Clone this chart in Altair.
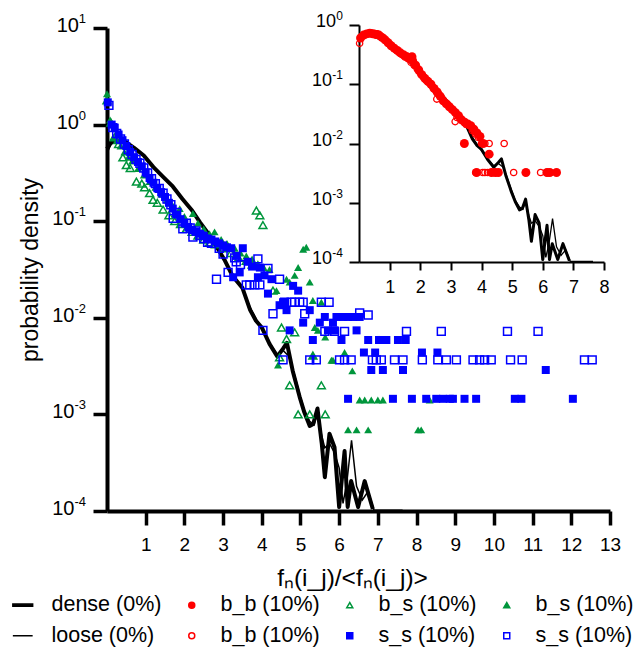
import json
import altair as alt
import pandas as pd

FONT = "Liberation Sans"
GREEN = "#00963C"
BLUE = "#0000FF"
RED = "#FF0000"

# ---------------- data ----------------
DENSE_X = [0.0, 0.1, 0.25, 0.45, 0.7, 0.95, 1.2, 1.45, 1.7, 1.95, 2.2, 2.4, 2.6, 2.8, 3.05,
           3.25, 3.5, 3.7, 3.85, 4.0, 4.2, 4.4, 4.55, 4.65, 4.8, 4.98, 5.1, 5.24, 5.33, 5.44,
           5.55, 5.63, 5.75, 5.88, 6.0, 6.14, 6.22, 6.31, 6.49, 6.66, 6.87]
DENSE_Y = [0.56, 0.65, 0.68, 0.676, 0.575, 0.479, 0.363, 0.288, 0.229, 0.170, 0.129, 0.0977,
           0.0759, 0.0575, 0.0389, 0.0269, 0.0204, 0.0120, 0.00933, 0.00794, 0.00537, 0.00398,
           0.00479, 0.00550, 0.00282, 0.00151, 0.00105, 0.000759, 0.000794, 0.00115, 0.000501,
           0.000224, 0.000631, 0.000457, 0.000110, 0.000417, 0.000110, 0.000204, 0.000110,
           0.000204, 0.000105]
LOOSE_X = [0.0, 0.1, 0.25, 0.45, 0.7, 0.95, 1.2, 1.45, 1.7, 1.95, 2.2, 2.4, 2.6, 2.8, 3.05,
           3.25, 3.5, 3.7, 3.85, 4.0, 4.2, 4.4, 4.55, 4.7, 4.8, 4.98, 5.1, 5.24, 5.35, 5.44,
           5.55, 5.63, 5.75, 5.88, 6.0, 6.1, 6.2, 6.32, 6.45, 6.6, 6.75, 6.9, 7.64]
LOOSE_Y = [0.50, 0.63, 0.66, 0.66, 0.57, 0.47, 0.36, 0.285, 0.226, 0.168, 0.127, 0.0966,
           0.0746, 0.0566, 0.0380, 0.0275, 0.0200, 0.0128, 0.0098, 0.0076, 0.0055, 0.0042,
           0.0046, 0.0040, 0.0030, 0.00162, 0.00110, 0.00085, 0.00078, 0.00105, 0.00060,
           0.00045, 0.00050, 0.00040, 0.00028, 0.00012, 0.00020, 0.00054, 0.00018, 0.00013,
           0.00016, 0.000102, 0.000102]

# b_s (10%) open triangles
BS_OPEN = [(0.0, 1.78), (0.1, 1.05), (0.2, 0.74), (0.3, 0.63), (0.41, 0.457), (0.5, 0.38),
           (0.6, 0.355), (0.76, 0.257), (0.9, 0.245), (0.97, 0.224), (1.1, 0.195), (1.19, 0.166),
           (1.3, 0.155), (1.45, 0.132), (1.6, 0.115), (1.75, 0.100), (1.9, 0.0933), (2.05, 0.0832),
           (2.2, 0.0776), (2.35, 0.0708), (2.5, 0.0646), (2.65, 0.0603), (2.8, 0.0575), (3.0, 0.0525),
           (3.2, 0.0468), (3.4, 0.0417), (3.6, 0.0389), (3.75, 0.0355), (3.86, 0.129), (3.95, 0.115),
           (4.03, 0.0912), (4.29, 0.0191), (4.46, 0.00389), (4.51, 0.00794), (4.64, 0.00603),
           (4.72, 0.00200), (4.85, 0.00708), (4.94, 0.00100), (5.24, 0.00100), (5.32, 0.00407),
           (5.54, 0.00200), (5.64, 0.00100)]
# b_s (10%) filled triangles
BS_FILLED = [(0.0, 2.09), (0.08, 1.12), (0.16, 0.74), (0.25, 0.68), (0.35, 0.60), (0.45, 0.52),
             (0.55, 0.46), (0.65, 0.42), (0.8, 0.35), (0.95, 0.30), (1.1, 0.257), (1.25, 0.224),
             (1.4, 0.191), (1.55, 0.166), (1.7, 0.145), (1.88, 0.135), (2.0, 0.112), (2.22, 0.120),
             (2.35, 0.0955), (2.5, 0.0832), (2.65, 0.0741), (2.78, 0.0776), (2.95, 0.0646),
             (3.1, 0.0589), (3.3, 0.0525), (3.45, 0.0468), (3.6, 0.0437), (3.75, 0.0407),
             (3.9, 0.0363), (4.05, 0.0331), (4.2, 0.0316), (4.38, 0.0191), (4.42, 0.00324),
             (4.64, 0.0251), (4.72, 0.0234), (4.85, 0.0275), (4.94, 0.0331), (5.07, 0.0513),
             (5.15, 0.0537), (5.24, 0.0234), (5.32, 0.0151), (5.37, 0.00794), (5.45, 0.00741),
             (5.54, 0.0145), (5.64, 0.00631), (5.32, 0.00407), (5.8, 0.00363), (5.84, 0.00363),
             (6.14, 0.00437), (6.34, 0.00282), (6.53, 0.00141), (6.66, 0.00141), (6.83, 0.00141),
             (7.0, 0.00141), (7.13, 0.00141), (8.34, 0.00141), (6.23, 0.000692), (6.45, 0.000692),
             (6.75, 0.000692), (8.04, 0.000692), (8.12, 0.000692)]
# s_s (10%) filled squares
SS_FILLED = [(0.02, 1.70), (0.12, 1.00), (0.2, 0.93), (0.3, 0.79), (0.4, 0.69), (0.5, 0.60),
             (0.6, 0.52), (0.7, 0.46), (0.8, 0.41), (0.9, 0.37), (1.0, 0.32), (1.1, 0.28),
             (1.2, 0.25), (1.3, 0.22), (1.4, 0.20), (1.5, 0.178), (1.6, 0.155), (1.7, 0.135),
             (1.8, 0.117), (1.9, 0.105), (2.0, 0.0955), (2.1, 0.0871), (2.2, 0.0813), (2.3, 0.0776),
             (2.4, 0.0741), (2.5, 0.0708), (2.6, 0.0661), (2.7, 0.0646), (2.8, 0.0617), (2.9, 0.0589),
             (3.0, 0.0562), (3.1, 0.0537), (3.21, 0.0525), (3.26, 0.0263), (3.35, 0.0437),
             (3.43, 0.0295), (3.51, 0.0525), (3.64, 0.0380), (3.75, 0.0339), (3.9, 0.0263),
             (3.95, 0.0331), (4.07, 0.0275), (4.16, 0.0178), (4.25, 0.0251), (4.46, 0.0135),
             (4.55, 0.0145), (4.64, 0.0120), (4.72, 0.00741), (4.81, 0.0214), (4.94, 0.0191),
             (5.07, 0.00891), (5.24, 0.0120), (5.32, 0.00589), (5.50, 0.00891), (5.63, 0.0102),
             (5.71, 0.00741), (5.84, 0.00891), (5.88, 0.00741), (5.93, 0.0102), (6.06, 0.00589),
             (6.1, 0.0102), (6.23, 0.0102), (6.36, 0.0102), (6.45, 0.00741), (6.53, 0.0102),
             (6.64, 0.00437), (6.75, 0.00589), (6.83, 0.00288), (6.93, 0.00437), (7.03, 0.00589),
             (7.13, 0.00288), (7.22, 0.00589), (7.52, 0.00589), (7.65, 0.00288), (7.72, 0.00589),
             (8.14, 0.00437), (8.54, 0.00437), (11.34, 0.00288), (6.23, 0.00145), (7.39, 0.00145),
             (7.88, 0.00145), (8.25, 0.00145), (8.51, 0.00145), (8.68, 0.00145), (8.86, 0.00145),
             (8.94, 0.00145), (9.24, 0.00145), (9.54, 0.00145), (10.54, 0.00145), (10.71, 0.00145),
             (12.04, 0.00145)]
# s_s (10%) open squares
SS_OPEN = [(0.05, 1.58), (0.15, 0.93), (0.25, 0.81), (0.35, 0.71), (0.45, 0.63), (0.55, 0.55),
           (0.65, 0.49), (0.75, 0.437), (0.85, 0.398), (0.95, 0.355), (1.05, 0.316), (1.15, 0.275),
           (1.25, 0.245), (1.35, 0.219), (1.45, 0.195), (1.55, 0.170), (1.65, 0.148), (1.71, 0.107),
           (1.8, 0.123), (1.96, 0.0832), (2.05, 0.0955), (2.15, 0.0851), (2.22, 0.0684), (2.3, 0.0794),
           (2.4, 0.0708), (2.5, 0.0661), (2.6, 0.0603), (2.7, 0.0589), (2.83, 0.0251), (2.9, 0.0525),
           (3.0, 0.0457), (3.13, 0.0295), (3.3, 0.0417), (3.34, 0.0380), (3.45, 0.0355), (3.6, 0.0219),
           (3.69, 0.0219), (3.82, 0.0219), (3.9, 0.0407), (3.95, 0.0219), (4.03, 0.00741),
           (4.16, 0.0324), (4.29, 0.0110), (4.46, 0.0251), (4.55, 0.00367), (4.59, 0.0145),
           (4.76, 0.0145), (4.85, 0.0145), (4.98, 0.0145), (5.07, 0.0145), (5.11, 0.0110),
           (5.24, 0.00367), (5.41, 0.00367), (5.54, 0.0145), (5.63, 0.00724), (5.74, 0.0145),
           (5.88, 0.00724), (6.01, 0.00367), (6.14, 0.00724), (6.14, 0.00367), (6.31, 0.00367),
           (6.53, 0.0112), (6.75, 0.0107), (6.86, 0.00367), (6.96, 0.00367), (7.09, 0.00367),
           (7.43, 0.00367), (7.65, 0.00367), (7.74, 0.00724), (8.15, 0.00367), (8.55, 0.00367),
           (8.64, 0.00724), (8.77, 0.00367), (9.03, 0.00367), (9.46, 0.00367), (9.63, 0.00367),
           (9.76, 0.00367), (9.93, 0.00367), (10.35, 0.00724), (10.43, 0.00367), (10.73, 0.00367),
           (11.14, 0.00724), (12.34, 0.00367), (12.54, 0.00367)]
# b_b (10%) filled circles (inset)
BB_FILLED = [(0.05, 0.603), (0.15, 0.676), (0.25, 0.708), (0.35, 0.724), (0.45, 0.708), (0.55, 0.692),
             (0.65, 0.676), (0.75, 0.617), (0.85, 0.562), (0.95, 0.501), (1.05, 0.447), (1.15, 0.407),
             (1.25, 0.372), (1.35, 0.339), (1.45, 0.316), (1.55, 0.295), (1.65, 0.275), (1.73, 0.292),
             (1.75, 0.251), (1.85, 0.209), (1.95, 0.174), (2.05, 0.145), (2.15, 0.126), (2.25, 0.112),
             (2.35, 0.100), (2.45, 0.0851), (2.55, 0.0741), (2.65, 0.0631), (2.75, 0.0525),
             (2.85, 0.0468), (2.95, 0.0417), (3.05, 0.0372), (3.15, 0.0331), (3.25, 0.0295),
             (3.35, 0.0251), (3.45, 0.0229), (3.55, 0.0214), (3.65, 0.0200), (3.75, 0.0174),
             (3.85, 0.0151), (3.95, 0.0132), (4.05, 0.0100), (4.25, 0.0066), (3.44, 0.0100),
             (3.84, 0.00324), (4.33, 0.00324), (4.45, 0.00324), (4.55, 0.00324), (5.45, 0.00324),
             (6.14, 0.00324), (6.23, 0.00324), (6.45, 0.00324)]
# b_b (10%) open circles (inset)
BB_OPEN = [(0.02, 0.490), (0.1, 0.646), (0.2, 0.692), (0.3, 0.724), (0.4, 0.741), (0.5, 0.724),
           (0.6, 0.708), (0.7, 0.661), (0.8, 0.603), (0.9, 0.537), (1.0, 0.479), (1.1, 0.427),
           (1.2, 0.380), (1.3, 0.347), (1.4, 0.316), (1.5, 0.288), (1.6, 0.269), (1.7, 0.234),
           (1.8, 0.209), (1.9, 0.182), (2.0, 0.155), (2.1, 0.132), (2.2, 0.115), (2.3, 0.105),
           (2.4, 0.0912), (2.5, 0.0794), (2.54, 0.0562), (2.6, 0.0692), (2.7, 0.0589), (2.8, 0.0501),
           (2.9, 0.0457), (3.0, 0.0398), (3.1, 0.0355), (3.14, 0.0234), (3.2, 0.0275), (3.3, 0.0263),
           (3.4, 0.0240), (3.5, 0.0209), (3.6, 0.0200), (3.7, 0.0166), (3.8, 0.0145), (3.9, 0.0126),
           (4.0, 0.0100), (4.11, 0.0100), (4.25, 0.0100), (4.74, 0.0100), (3.81, 0.00324),
           (4.04, 0.00324), (4.11, 0.00324), (4.2, 0.00324), (4.3, 0.00324), (5.05, 0.00324),
           (5.93, 0.00324), (6.12, 0.00324)]

MAIN_XTICKS = [1, 2, 3, 4, 5, 6, 7, 8, 9, 10, 11, 12, 13]
MAIN_YTICKS = [10, 1, 0.1, 0.01, 0.001, 0.0001]
MAIN_YEXP = ["1", "0", "-1", "-2", "-3", "-4"]
INSET_XTICKS = [1, 2, 3, 4, 5, 6, 7, 8]
INSET_YTICKS = [1, 0.1, 0.01, 0.001, 0.0001]
INSET_YEXP = ["0", "-1", "-2", "-3", "-4"]

# legend entries, listed column by column (two rows)
LEGEND_KEYS = ["dense", "loose", "bb_f", "bb_o", "bs_o", "ss_f", "bs_f", "ss_o"]
LEGEND_LABELS = ["dense (0%)", "loose (0%)", "b_b (10%)", "b_b (10%)",
                 "b_s (10%)", "s_s (10%)", "b_s (10%)", "s_s (10%)"]

X_TITLE = "f\u2099(i_j)/<f\u2099(i_j)>"
Y_TITLE = "probability density"

# ---------------- frames ----------------
dense_df = pd.DataFrame({"x": DENSE_X, "y": DENSE_Y})
loose_df = pd.DataFrame({"x": LOOSE_X, "y": LOOSE_Y})


def pts(pairs):
    return pd.DataFrame(pairs, columns=["x", "y"])


main_lab = pd.DataFrame({"y": MAIN_YTICKS, "e": MAIN_YEXP})
inset_lab = pd.DataFrame({"y": INSET_YTICKS, "e": INSET_YEXP})
legend_df = pd.DataFrame({"key": LEGEND_KEYS, "x": [None] * 8, "y": [None] * 8})

# ---------------- encodings ----------------
x_main = alt.X("x:Q", scale=alt.Scale(domain=[0, 13], nice=False, zero=False),
               axis=alt.Axis(values=MAIN_XTICKS, format="d", title=X_TITLE, grid=False,
                             domainWidth=4, tickWidth=3.5, tickSize=14, labelFontSize=19,
                             labelPadding=10, labelFlush=False, labelOverlap=False,
                             titleFontSize=24.5, titleX=245, titleY=67, titleBaseline="middle"))
y_main = alt.Y("y:Q", scale=alt.Scale(type="log", domain=[1e-4, 10], nice=False),
               axis=alt.Axis(values=MAIN_YTICKS, labels=False, title=Y_TITLE, grid=False,
                             domainWidth=4, tickWidth=3.5, tickSize=14, titleFontSize=23,
                             titleX=-77, titleY=241.5, titleAngle=270, titleAlign="center",
                             titleBaseline="middle"))

x_in = alt.X("x:Q", scale=alt.Scale(domain=[0, 8], nice=False, zero=False, range=[252, 497]),
             axis=alt.Axis(orient="bottom", offset=-249, values=INSET_XTICKS, format="d",
                           title=None, grid=False, domainWidth=2, tickWidth=2, tickSize=8,
                           labelFontSize=18, labelPadding=8, labelFlush=False,
                           labelOverlap=False))
y_in = alt.Y("y:Q", scale=alt.Scale(type="log", domain=[1e-4, 1], nice=False, range=[234, -3]),
             axis=alt.Axis(orient="left", offset=-252, values=INSET_YTICKS, labels=False,
                           title=None, grid=False, domainWidth=2, tickWidth=2, tickSize=10))


def scatter(df, shape, filled, color, size, xe, ye, sw=1.5):
    return alt.Chart(df).mark_point(shape=shape, filled=filled, color=color, size=size,
                                    strokeWidth=sw, opacity=1).encode(x=xe, y=ye)


def ylabels(df, ye, xs, xd, xe, fs, efs, dyb, dye):
    b1 = alt.Chart(df).transform_filter("length(datum.e) == 1").mark_text(
        text="10", align="right", baseline="middle", font=FONT, fontSize=fs, dy=dyb,
        color="black").encode(y=ye, x=alt.value(xs))
    b2 = alt.Chart(df).transform_filter("length(datum.e) > 1").mark_text(
        text="10", align="right", baseline="middle", font=FONT, fontSize=fs, dy=dyb,
        color="black").encode(y=ye, x=alt.value(xd))
    ex = alt.Chart(df).mark_text(align="right", baseline="middle", font=FONT, fontSize=efs,
                                 dy=dye, color="black").encode(y=ye, x=alt.value(xe),
                                                               text="e:N")
    return [b1, b2, ex]


DENSE_PATH = "M-3.3,-0.35L3.3,-0.35L3.3,0.35L-3.3,0.35Z"
LOOSE_PATH = "M-3.3,0L3.3,0"
leg = alt.Legend(title=None, orient="none", legendX=-95, legendY=566, columns=4,
                 labelFontSize=21.5, labelFont=FONT, labelColor="black", labelOffset=18,
                 columnPadding=19, rowPadding=8, symbolSize=36, symbolStrokeWidth=1.5,
                 padding=0,
                 labelExpr=f"{json.dumps(LEGEND_LABELS)}[indexof({json.dumps(LEGEND_KEYS)}, datum.value)]")
legend_layer = alt.Chart(legend_df).mark_point(clip=True, opacity=1).encode(
    x=x_main, y=y_main,
    shape=alt.Shape("key:N", scale=alt.Scale(domain=LEGEND_KEYS, range=[
        DENSE_PATH, LOOSE_PATH, "circle", "circle", "triangle-up", "square", "triangle-up", "square"]),
        legend=leg),
    fill=alt.Fill("key:N", scale=alt.Scale(domain=LEGEND_KEYS, range=[
        "black", "black", RED, "transparent", "transparent", BLUE, GREEN, "transparent"]),
        legend=leg),
    stroke=alt.Stroke("key:N", scale=alt.Scale(domain=LEGEND_KEYS, range=[
        "black", "black", RED, RED, GREEN, BLUE, GREEN, BLUE]), legend=leg),
)

main_layers = [
    alt.Chart(dense_df).mark_line(color="black", strokeWidth=4, strokeJoin="round").encode(x=x_main, y=y_main),
    alt.Chart(loose_df).mark_line(color="black", strokeWidth=1.5).encode(x=x_main, y=y_main),
    scatter(pts(BS_OPEN), "triangle-up", False, GREEN, 62, x_main, y_main),
    scatter(pts(BS_FILLED), "triangle-up", True, GREEN, 64, x_main, y_main),
    scatter(pts(SS_FILLED), "square", True, BLUE, 64, x_main, y_main),
    scatter(pts(SS_OPEN), "square", False, BLUE, 62, x_main, y_main),
    legend_layer,
] + ylabels(main_lab, y_main, -28, -32.5, -21, 20, 13, -2, -9)

inset_layers = [
    alt.Chart(dense_df).mark_line(color="black", strokeWidth=3, strokeJoin="round").encode(x=x_in, y=y_in),
    alt.Chart(loose_df).mark_line(color="black", strokeWidth=1.3).encode(x=x_in, y=y_in),
    scatter(pts(BB_FILLED), "circle", True, RED, 80, x_in, y_in),
    scatter(pts(BB_OPEN), "circle", False, RED, 40, x_in, y_in, sw=1.3),
] + ylabels(inset_lab, y_in, 229, 225, 236, 18, 12, -3, -9)

main = alt.layer(*main_layers)
inset = alt.layer(*inset_layers)

chart = (
    alt.layer(main, inset)
    .resolve_scale(x="independent", y="independent")
    .properties(width=503, height=483,
                padding={"left": 99, "top": 20, "right": 25, "bottom": 141},
                autosize=alt.AutoSizeParams(type="none"))
    .configure_view(stroke=None)
    .configure_axis(labelFont=FONT, titleFont=FONT, labelColor="black", titleColor="black",
                    domainColor="black", tickColor="black", titleFontWeight="normal")
)

chart.save("out.html", embed_options={"renderer": "svg", "actions": False})
